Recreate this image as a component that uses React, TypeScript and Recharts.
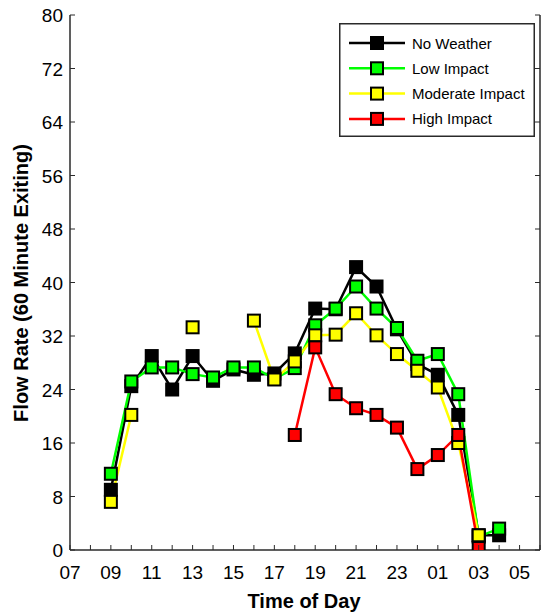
import React from "react";
import { LineChart, Line, XAxis, YAxis, Label } from "recharts";

const hours = [9, 10, 11, 12, 13, 14, 15, 16, 17, 18, 19, 20, 21, 22, 23, 24, 25, 26, 27, 28];
const noWeather = [9, 24.5, 29, 24, 29, 25.3, 27, 26.2, 26.4, 29.4, 36.1, 36, 42.3, 39.4, 33, 27.8, 26.2, 20.2, 2.2, 2.2];
const lowImpact = [11.4, 25.2, 27.3, 27.3, 26.3, 25.8, 27.3, 27.3, 25.6, 27.2, 33.6, 36.1, 39.4, 36.1, 33.2, 28.3, 29.3, 23.3, 2, 3.2];
const moderateImpact = [7.2, 20.2, null, null, 33.3, null, null, 34.3, 25.5, 28.2, 32.1, 32.2, 35.4, 32.1, 29.3, 26.8, 24.3, 16, 2.2, null];
const highImpact = [null, null, null, null, null, null, null, null, null, 17.2, 30.3, 23.3, 21.2, 20.2, 18.3, 12.1, 14.2, 17.2, 0.3, null];

const seriesNames = ["No Weather", "Low Impact", "Moderate Impact", "High Impact"];
const seriesKeys = ["noWeather", "lowImpact", "moderateImpact", "highImpact"];
const seriesColors = ["#000000", "#00ff00", "#ffff00", "#ff0000"];

const xTicks = [7, 8, 9, 10, 11, 12, 13, 14, 15, 16, 17, 18, 19, 20, 21, 22, 23, 24, 25, 26, 27, 28, 29, 30];
const yTicks = [0, 8, 16, 24, 32, 40, 48, 56, 64, 72, 80];

const data = hours.map((h, i) => ({
  hour: h,
  noWeather: noWeather[i],
  lowImpact: lowImpact[i],
  moderateImpact: moderateImpact[i],
  highImpact: highImpact[i],
}));

const SANS = '"Liberation Sans", Arial, sans-serif';
const AX = "#2a2a2a";

const fmtHour = (h: number) => {
  const v = h % 24;
  return v < 10 ? "0" + v : String(v);
};

const BottomTick = (p: any) => {
  const { x, y, payload } = p;
  const v = payload.value;
  return (
    <g>
      <line x1={x} x2={x} y1={y} y2={y - 5} stroke={AX} strokeWidth={1} />
      {v % 2 === 1 && v <= 29 ? (
        <text x={x} y={y + 29} textAnchor="middle" fontFamily={SANS} fontSize={19} fill="#000">
          {fmtHour(v)}
        </text>
      ) : null}
    </g>
  );
};

const TopTick = (p: any) => {
  const { x, y } = p;
  return <line x1={x} x2={x} y1={y} y2={y + 5} stroke={AX} strokeWidth={1} />;
};

const LeftTick = (p: any) => {
  const { x, y, payload } = p;
  return (
    <g>
      <line x1={x} x2={x + 5} y1={y} y2={y} stroke={AX} strokeWidth={1} />
      <text x={x - 7} y={y + 7} textAnchor="end" fontFamily={SANS} fontSize={19} fill="#000">
        {payload.value}
      </text>
    </g>
  );
};

const RightTick = (p: any) => {
  const { x, y } = p;
  return <line x1={x} x2={x - 5} y1={y} y2={y} stroke={AX} strokeWidth={1} />;
};

const makeDot = (color: string) => (props: any) => {
  const { cx, cy, value, index } = props;
  if (value == null || cx == null || cy == null || isNaN(cy)) return <g key={"d" + index} />;
  return (
    <rect key={"d" + index} x={cx - 6} y={cy - 6} width={12} height={12} fill={color} stroke="#000" strokeWidth={2} />
  );
};

const LegendBox = () => (
  <svg width={196} height={114} style={{ display: "block" }}>
    <rect x={0.75} y={0.75} width={194.5} height={112.5} fill="#fff" stroke={AX} strokeWidth={1.5} />
    {seriesNames.map((n, i) => {
      const cy = 20 + i * 25.3;
      return (
        <g key={n}>
          <line x1={10} x2={66} y1={cy} y2={cy} stroke={seriesColors[i]} strokeWidth={2.5} />
          <rect x={32} y={cy - 6} width={12} height={12} fill={seriesColors[i]} stroke="#000" strokeWidth={2} />
          <text x={73} y={cy + 5.5} fontFamily={SANS} fontSize={15} fill="#000">
            {n}
          </text>
        </g>
      );
    })}
  </svg>
);

export default function App() {
  return (
    <div style={{ position: "absolute", left: 0, top: 0, width: 541, height: 616, background: "#fff" }}>
      <LineChart width={541} height={616} data={data} margin={{ top: 15, right: 0, bottom: 0, left: 0 }}>
        <XAxis
          xAxisId="b"
          dataKey="hour"
          type="number"
          domain={[7, 30]}
          ticks={xTicks}
          interval={0}
          orientation="bottom"
          height={66}
          tickSize={0}
          tickMargin={0}
          tickLine={false}
          tick={BottomTick}
          axisLine={{ stroke: AX, strokeWidth: 1.5 }}
          allowDataOverflow
        >
          <Label
            content={() => (
              <text x={304} y={608} textAnchor="middle" fontFamily={SANS} fontWeight="bold" fontSize={20} fill="#000">
                Time of Day
              </text>
            )}
          />
        </XAxis>
        <XAxis
          xAxisId="t"
          dataKey="hour"
          type="number"
          domain={[7, 30]}
          ticks={xTicks}
          interval={0}
          orientation="top"
          height={0}
          tickSize={0}
          tickMargin={0}
          tickLine={false}
          tick={TopTick}
          axisLine={{ stroke: AX, strokeWidth: 1.5 }}
          allowDataOverflow
        />
        <YAxis
          yAxisId="l"
          type="number"
          domain={[0, 80]}
          ticks={yTicks}
          interval={0}
          width={70}
          tickSize={0}
          tickMargin={0}
          tickLine={false}
          tick={LeftTick}
          axisLine={{ stroke: AX, strokeWidth: 1.5 }}
          allowDataOverflow
        >
          <Label
            content={() => (
              <text
                x={28}
                y={283}
                transform="rotate(-90, 28, 283)"
                textAnchor="middle"
                fontFamily={SANS}
                fontWeight="bold"
                fontSize={20}
                fill="#000"
              >
                Flow Rate (60 Minute Exiting)
              </text>
            )}
          />
        </YAxis>
        <YAxis
          yAxisId="r"
          orientation="right"
          type="number"
          domain={[0, 80]}
          ticks={yTicks}
          interval={0}
          width={1}
          tickSize={0}
          tickMargin={0}
          tickLine={false}
          tick={RightTick}
          axisLine={{ stroke: AX, strokeWidth: 1.5 }}
          allowDataOverflow
        />
        {seriesKeys.map((k, i) => (
          <Line
            key={k}
            xAxisId="b"
            yAxisId="l"
            dataKey={k}
            name={seriesNames[i]}
            stroke={seriesColors[i]}
            strokeWidth={2.5}
            dot={makeDot(seriesColors[i])}
            activeDot={false}
            connectNulls={false}
            isAnimationActive={false}
          />
        ))}
      </LineChart>
      <div style={{ position: "absolute", left: 339, top: 23 }}>
        <LegendBox />
      </div>
    </div>
  );
}
